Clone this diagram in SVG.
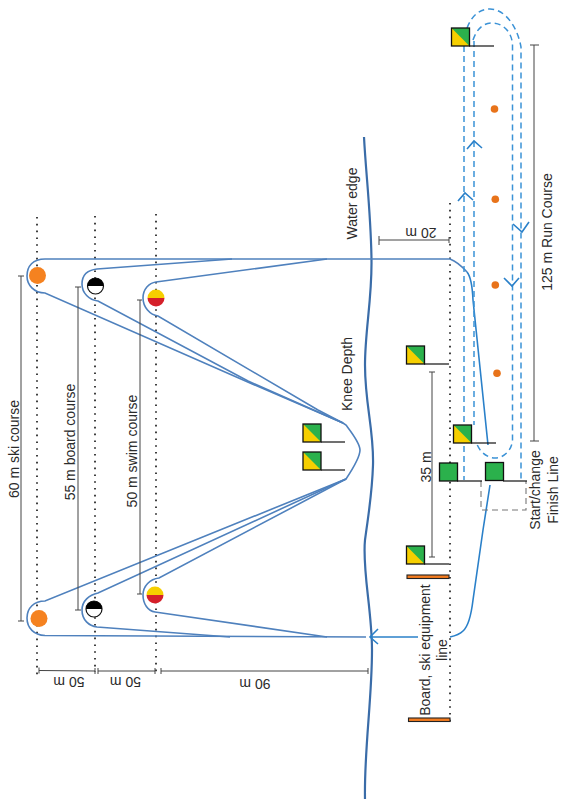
<svg xmlns="http://www.w3.org/2000/svg" width="561" height="799" viewBox="0 0 561 799">
<style>
text{font-family:"Liberation Sans",Arial,sans-serif;font-size:14px;fill:#2b2b2b;text-anchor:middle}
.course{fill:none;stroke:#4f81bd;stroke-width:1.6}
.entry{fill:none;stroke:#2a80c9;stroke-width:1.6}
.water{fill:none;stroke:#3a6ca8;stroke-width:2.200}
.run{fill:none;stroke:#3b92d6;stroke-width:1.500;stroke-dasharray:6 4}
.chev{fill:none;stroke:#2a80c9;stroke-width:1.6}
.dots{fill:none;stroke:#111;stroke-width:1.6;stroke-dasharray:1.6 5.2}
.dim{fill:none;stroke:#444;stroke-width:1}
.box{fill:none;stroke:#777;stroke-width:1.1;stroke-dasharray:6 4}
.pole{fill:none;stroke:#111;stroke-width:1.2}
.fb{fill:none;stroke:#111;stroke-width:1.3}
.g{fill:#2bb14c}.y{fill:#f6cf00}
.bar{fill:#f47c20;stroke:#222;stroke-width:1.1}
.o{fill:#e8731a}
.ski{fill:#f58220}
</style>
<defs>
<g id="flag"><rect class="g" width="18" height="18"/><path class="y" d="M0 0L18 18H0Z"/><rect class="fb" width="18" height="18"/></g>
<g id="gflag"><rect class="g" width="18" height="18"/><rect class="fb" width="18" height="18"/></g>
<g id="swim"><path class="y" d="M-8.500 0A8.500 8.500 0 0 1 8.500 0Z"/><path d="M-8.500 0A8.500 8.500 0 0 0 8.500 0Z" fill="#d5202a"/></g>
<g id="board"><circle r="8" fill="#fff" stroke="#111" stroke-width="1.200"/><path d="M-8 0A8 8 0 0 1 8 0Z" fill="#000"/></g>
</defs>
<g id="dotted-lines">
<path class="dots" d="M37 217V675M95 216V672M156 214V672M450 203V725"/>
</g>
<g id="connectors">
<path class="water" d="M364 137C366 175 371 215 371.500 260C372 300 365 330 365 365C365 405 374 430 373 465C372 495 369 510 365 540C362 570 372 610 372 650C372 700 364 750 365 799"/>
<path class="course" d="M451 259H45C33 259 27 266 27 276C27 285 34 293 45 293L250 383L343 423L346 425C352 433 360 443 360 450C360 458 352 470 346 479L45 601C34 601 27 608 27 618C27 628 34 635 45 635.500L366 637"/>
<path class="course" d="M232 259L97 269C88 270 82 275 82 284C82 293 89 300 98 301L248 381L343 423M346 479L98 593C89 595 82 601 82 610C82 620 89 626 97 627L230 637"/>
<path class="course" d="M327 259L156 282C149 283 143 289 143 298C143 307 150 315 158 316L318 410L343 423M346 479L159 578C150 579 143 586 143 595C143 604 148 611 155 612L327 637"/>
<path class="course" d="M450 259Q458 262 467 272"/>
<path class="entry" d="M467 272Q472 278 473 300L488 445"/>
<path class="entry" d="M490 485L483 530L473 600Q470 625 463 631Q459 635 450 637"/>
<path class="entry" d="M370 637H418"/>
<path class="chev" d="M378 629L370 637L378 644"/>
<path class="run" d="M464 46V480"/>
<path class="run" d="M474 41V425"/>
<path class="run" d="M467 28C472 15 480 9 490 9C504 9 517 25 521 47V480"/>
<path class="run" d="M473 40C477 28 484 23 492 23C503 23 512 32 512.500 45V440C512 450 504 458 495 458C486 458 478 450 476 441"/>
<path class="chev" d="M467 149L474 141L482 148M458 201L465 193L473 200M513 224L522 232L529 222M504 278L512 286L519 278"/>
</g>
<g id="dimensions">
<path class="dim" d="M21 276V621M18 276H24M18 621H24"/>
<path class="dim" d="M78 287V610M75 287H81M75 610H81"/>
<path class="dim" d="M140 300V594M137 300H142M137 594H142"/>
<path class="dim" d="M39 670.500L95 671M39 667.500V673.500M98 671H155M98 668V674M95 668V674M155 668V674"/>
<path class="dim" d="M161 671H368M161 668V674M368 668V674"/>
<path class="dim" d="M379 240H449M379 236V245M449 237V243"/>
<path class="dim" d="M432 372V557M429 372H435M429 557H435"/>
<path class="dim" d="M534 45V441M530 45H539M530 441H539"/>
<path class="box" d="M481 481V510H526V481"/>
</g>
<g id="labels">
<text transform="translate(18.500 449) rotate(-90)">60 m ski course</text>
<text transform="translate(75 442) rotate(-90)">55 m board course</text>
<text transform="translate(137 451) rotate(-90)">50 m swim course</text>
<text transform="translate(69 677) rotate(180)">50 m</text>
<text transform="translate(125.500 677) rotate(180)">50 m</text>
<text transform="translate(255 679) rotate(180)">90 m</text>
<text transform="translate(421 228) rotate(180)">20 m</text>
<text transform="translate(357 203.500) rotate(-90)">Water edge</text>
<text transform="translate(352 374) rotate(-90)">Knee Depth</text>
<text transform="translate(430.500 467) rotate(-90)">35 m</text>
<text transform="translate(552 232) rotate(-90)">125 m Run Course</text>
<text transform="translate(430 650) rotate(-90)">Board, ski equipment</text>
<text transform="translate(447 650) rotate(-90)">line</text>
<text transform="translate(540 490) rotate(-90)">Start/change</text>
<text transform="translate(558 490) rotate(-90)">Finish Line</text>
</g>
<g id="buoy-ski-top"><circle class="ski" cx="37.500" cy="275.500" r="8.500"/></g>
<g id="buoy-ski-bottom"><circle class="ski" cx="39" cy="618.500" r="8.500"/></g>
<g id="buoy-board-top"><use href="#board" x="95.500" y="286"/></g>
<g id="buoy-board-bottom"><use href="#board" x="94" y="609"/></g>
<g id="buoy-swim-top"><use href="#swim" x="156" y="298"/></g>
<g id="buoy-swim-bottom"><use href="#swim" x="155" y="595"/></g>
<g id="flag-run-turn"><use href="#flag" x="451.500" y="28"/><path class="pole" d="M469 46H494"/></g>
<g id="flag-swim-top"><use href="#flag" x="406.500" y="346"/><path class="pole" d="M424 364H449"/></g>
<g id="flag-swim-bottom"><use href="#flag" x="406.500" y="546"/><path class="pole" d="M424 564H449"/></g>
<g id="flag-transition"><use href="#flag" x="453.500" y="425"/><path class="pole" d="M471 443H496"/></g>
<g id="flag-water-1"><use href="#flag" x="303" y="424"/><path class="pole" d="M321 442H345"/></g>
<g id="flag-water-2"><use href="#flag" x="303" y="452"/><path class="pole" d="M321 470H345"/></g>
<g id="flag-start-left"><use href="#gflag" x="439.500" y="463"/><path class="pole" d="M457 481H482"/></g>
<g id="flag-start-right"><use href="#gflag" x="485.500" y="462.500"/><path class="pole" d="M503 481H527"/></g>
<g id="bar-top"><rect class="bar" x="407" y="575" width="42" height="3.500"/></g>
<g id="bar-bottom"><rect class="bar" x="408.500" y="718" width="41.500" height="3.500"/></g>
<g id="run-markers">
<circle class="o" cx="494.500" cy="109" r="3.800"/>
<circle class="o" cx="495.300" cy="199.300" r="3.800"/>
<circle class="o" cx="495.300" cy="285" r="3.800"/>
<circle class="o" cx="497" cy="373.300" r="3.800"/>
</g>
</svg>
